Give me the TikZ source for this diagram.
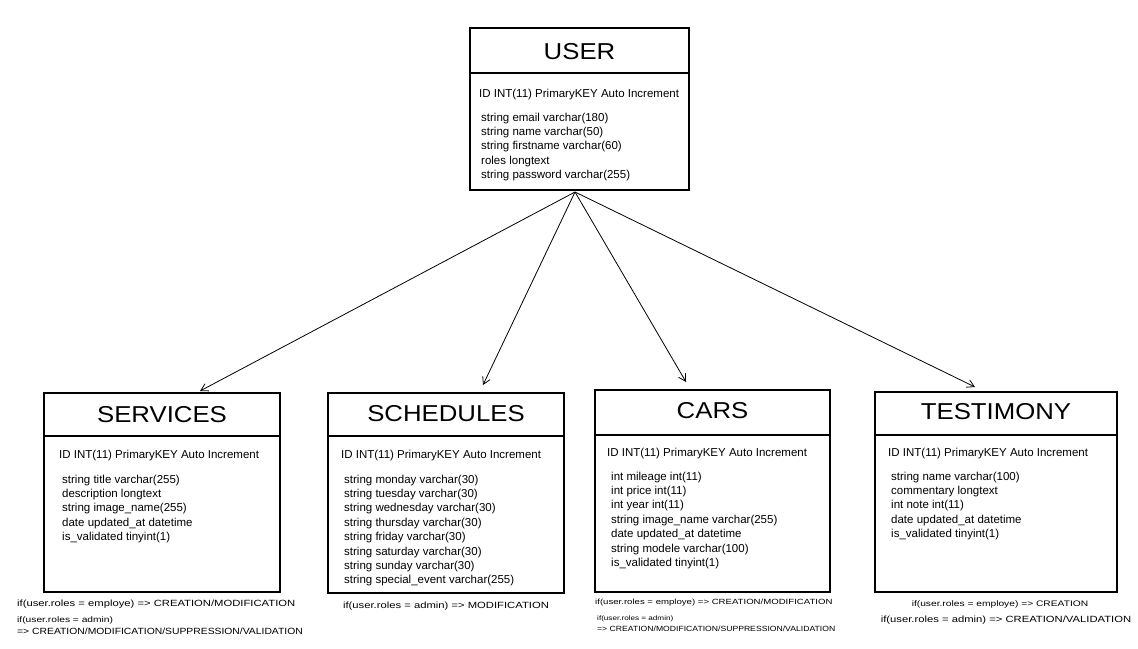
\documentclass[tikz,border=0pt]{standalone}
\usepackage{fontspec}
\setmainfont{Liberation Sans}
\usetikzlibrary{arrows.meta,calc}
\newcommand{\stretchfont}[2]{\fontsize{#1}{#1}\selectfont\addfontfeature{FakeStretch=#2}}
\tikzset{
  tbl/.style={draw=black, line width=1.2pt, fill=white, rectangle, inner sep=0pt},
  divider/.style={draw=black, line width=1.2pt},
  ttl/.style={font=\stretchfont{23}{1.12}, anchor=center, inner sep=0pt},
  idline/.style={font=\fontsize{11.5}{12}\selectfont, anchor=base west, inner sep=0pt},
  fields/.style={font=\fontsize{11.5}{14.4}\selectfont, anchor=base west, align=left, inner sep=0pt},
  note/.style={font=\stretchfont{9}{1.25}, inner sep=0pt},
  wnote/.style={font=\stretchfont{9}{1.15}, inner sep=0pt},
  cnote/.style={font=\stretchfont{7.5}{1.28}, inner sep=0pt},
  cwnote/.style={font=\stretchfont{7.5}{1.15}, inner sep=0pt},
  tinynote/.style={font=\stretchfont{6.5}{1.25}, inner sep=0pt},
  midnote/.style={font=\stretchfont{8}{1.28}, inner sep=0pt},
  rel/.style={draw=black, line width=0.8pt, -{Straight Barb[length=7pt,width=8pt]}}
}
\begin{document}
\begin{tikzpicture}[x=1pt,y=-1pt]
\useasboundingbox (0,0) rectangle (1138,648);
% USER
\node[tbl, minimum width=219pt, minimum height=162pt] (user) at (579.5,109) {};
\draw[divider] (470,73) -- (689,73);
\node[ttl] (userT) at (579.5,51.5) {USER};
\node[idline] (userID) at (479,97) {ID INT(11) PrimaryKEY Auto Increment};
\node[fields] (userF) at (481,178.6) {string email varchar(180)\\string name varchar(50)\\string firstname varchar(60)\\roles longtext\\string password varchar(255)};
% SERVICES
\node[tbl, minimum width=236pt, minimum height=199pt] (services) at (162,492.5) {};
\draw[divider] (44,436) -- (280,436);
\node[ttl] (servicesT) at (162,414.5) {SERVICES};
\node[idline] (servicesID) at (59,458) {ID INT(11) PrimaryKEY Auto Increment};
\node[fields] (servicesF) at (62,540.6) {string title varchar(255)\\description longtext\\string image\_name(255)\\date updated\_at datetime\\is\_validated tinyint(1)};
% SCHEDULES
\node[tbl, minimum width=236pt, minimum height=200pt] (schedules) at (446,493) {};
\draw[divider] (328,436) -- (564,436);
\node[ttl] (schedulesT) at (446,414) {SCHEDULES};
\node[idline] (schedulesID) at (341,458) {ID INT(11) PrimaryKEY Auto Increment};
\node[fields] (schedulesF) at (344,583.8) {string monday varchar(30)\\string tuesday varchar(30)\\string wednesday varchar(30)\\string thursday varchar(30)\\string friday varchar(30)\\string saturday varchar(30)\\string sunday varchar(30)\\string special\_event varchar(255)};
% CARS
\node[tbl, minimum width=235pt, minimum height=202pt] (cars) at (712.5,491) {};
\draw[divider] (595,435) -- (830,435);
\node[ttl] (carsT) at (712.5,411) {CARS};
\node[idline] (carsID) at (607,456) {ID INT(11) PrimaryKEY Auto Increment};
\node[fields] (carsF) at (611,566.4) {int mileage int(11)\\int price int(11)\\int year int(11)\\string image\_name varchar(255)\\date updated\_at datetime\\string modele varchar(100)\\is\_validated tinyint(1)};
% TESTIMONY
\node[tbl, minimum width=242pt, minimum height=200pt] (testimony) at (996,492) {};
\draw[divider] (875,435) -- (1117,435);
\node[ttl] (testimonyT) at (996,412) {TESTIMONY};
\node[idline] (testimonyID) at (888,456) {ID INT(11) PrimaryKEY Auto Increment};
\node[fields] (testimonyF) at (891,537.6) {string name varchar(100)\\commentary longtext\\int note int(11)\\date updated\_at datetime\\is\_validated tinyint(1)};
% notes
\node[note, anchor=west] (n1) at (17,604) {if(user.roles = employe) => CREATION/MODIFICATION};
\node[midnote, anchor=west] (n2) at (17,620) {if(user.roles = admin)};
\node[wnote, anchor=west] (n3) at (17,631) {=> CREATION/MODIFICATION/SUPPRESSION/VALIDATION};
\node[note] (n4) at (446,606) {if(user.roles = admin) => MODIFICATION};
\node[cnote, anchor=west] (n5) at (595,603) {if(user.roles = employe) => CREATION/MODIFICATION};
\node[tinynote, anchor=west] (n6) at (597,619) {if(user.roles = admin)};
\node[cwnote, anchor=west] (n7) at (597,629) {=> CREATION/MODIFICATION/SUPPRESSION/VALIDATION};
\node[midnote] (n8) at (1000,604) {if(user.roles = employe) => CREATION};
\node[note] (n9) at (1006,620) {if(user.roles = admin) => CREATION/VALIDATION};
% arrows
\coordinate (src) at (575,192);
\coordinate (svIn) at (200,391);
\coordinate (scIn) at (483,385);
\coordinate (caIn) at (686,382);
\coordinate (teIn) at (975,387);
\draw[rel] (src) -- (svIn);
\draw[rel] (src) -- (scIn);
\draw[rel] (src) -- (caIn);
\draw[rel] (src) -- (teIn);
\end{tikzpicture}
\end{document}
